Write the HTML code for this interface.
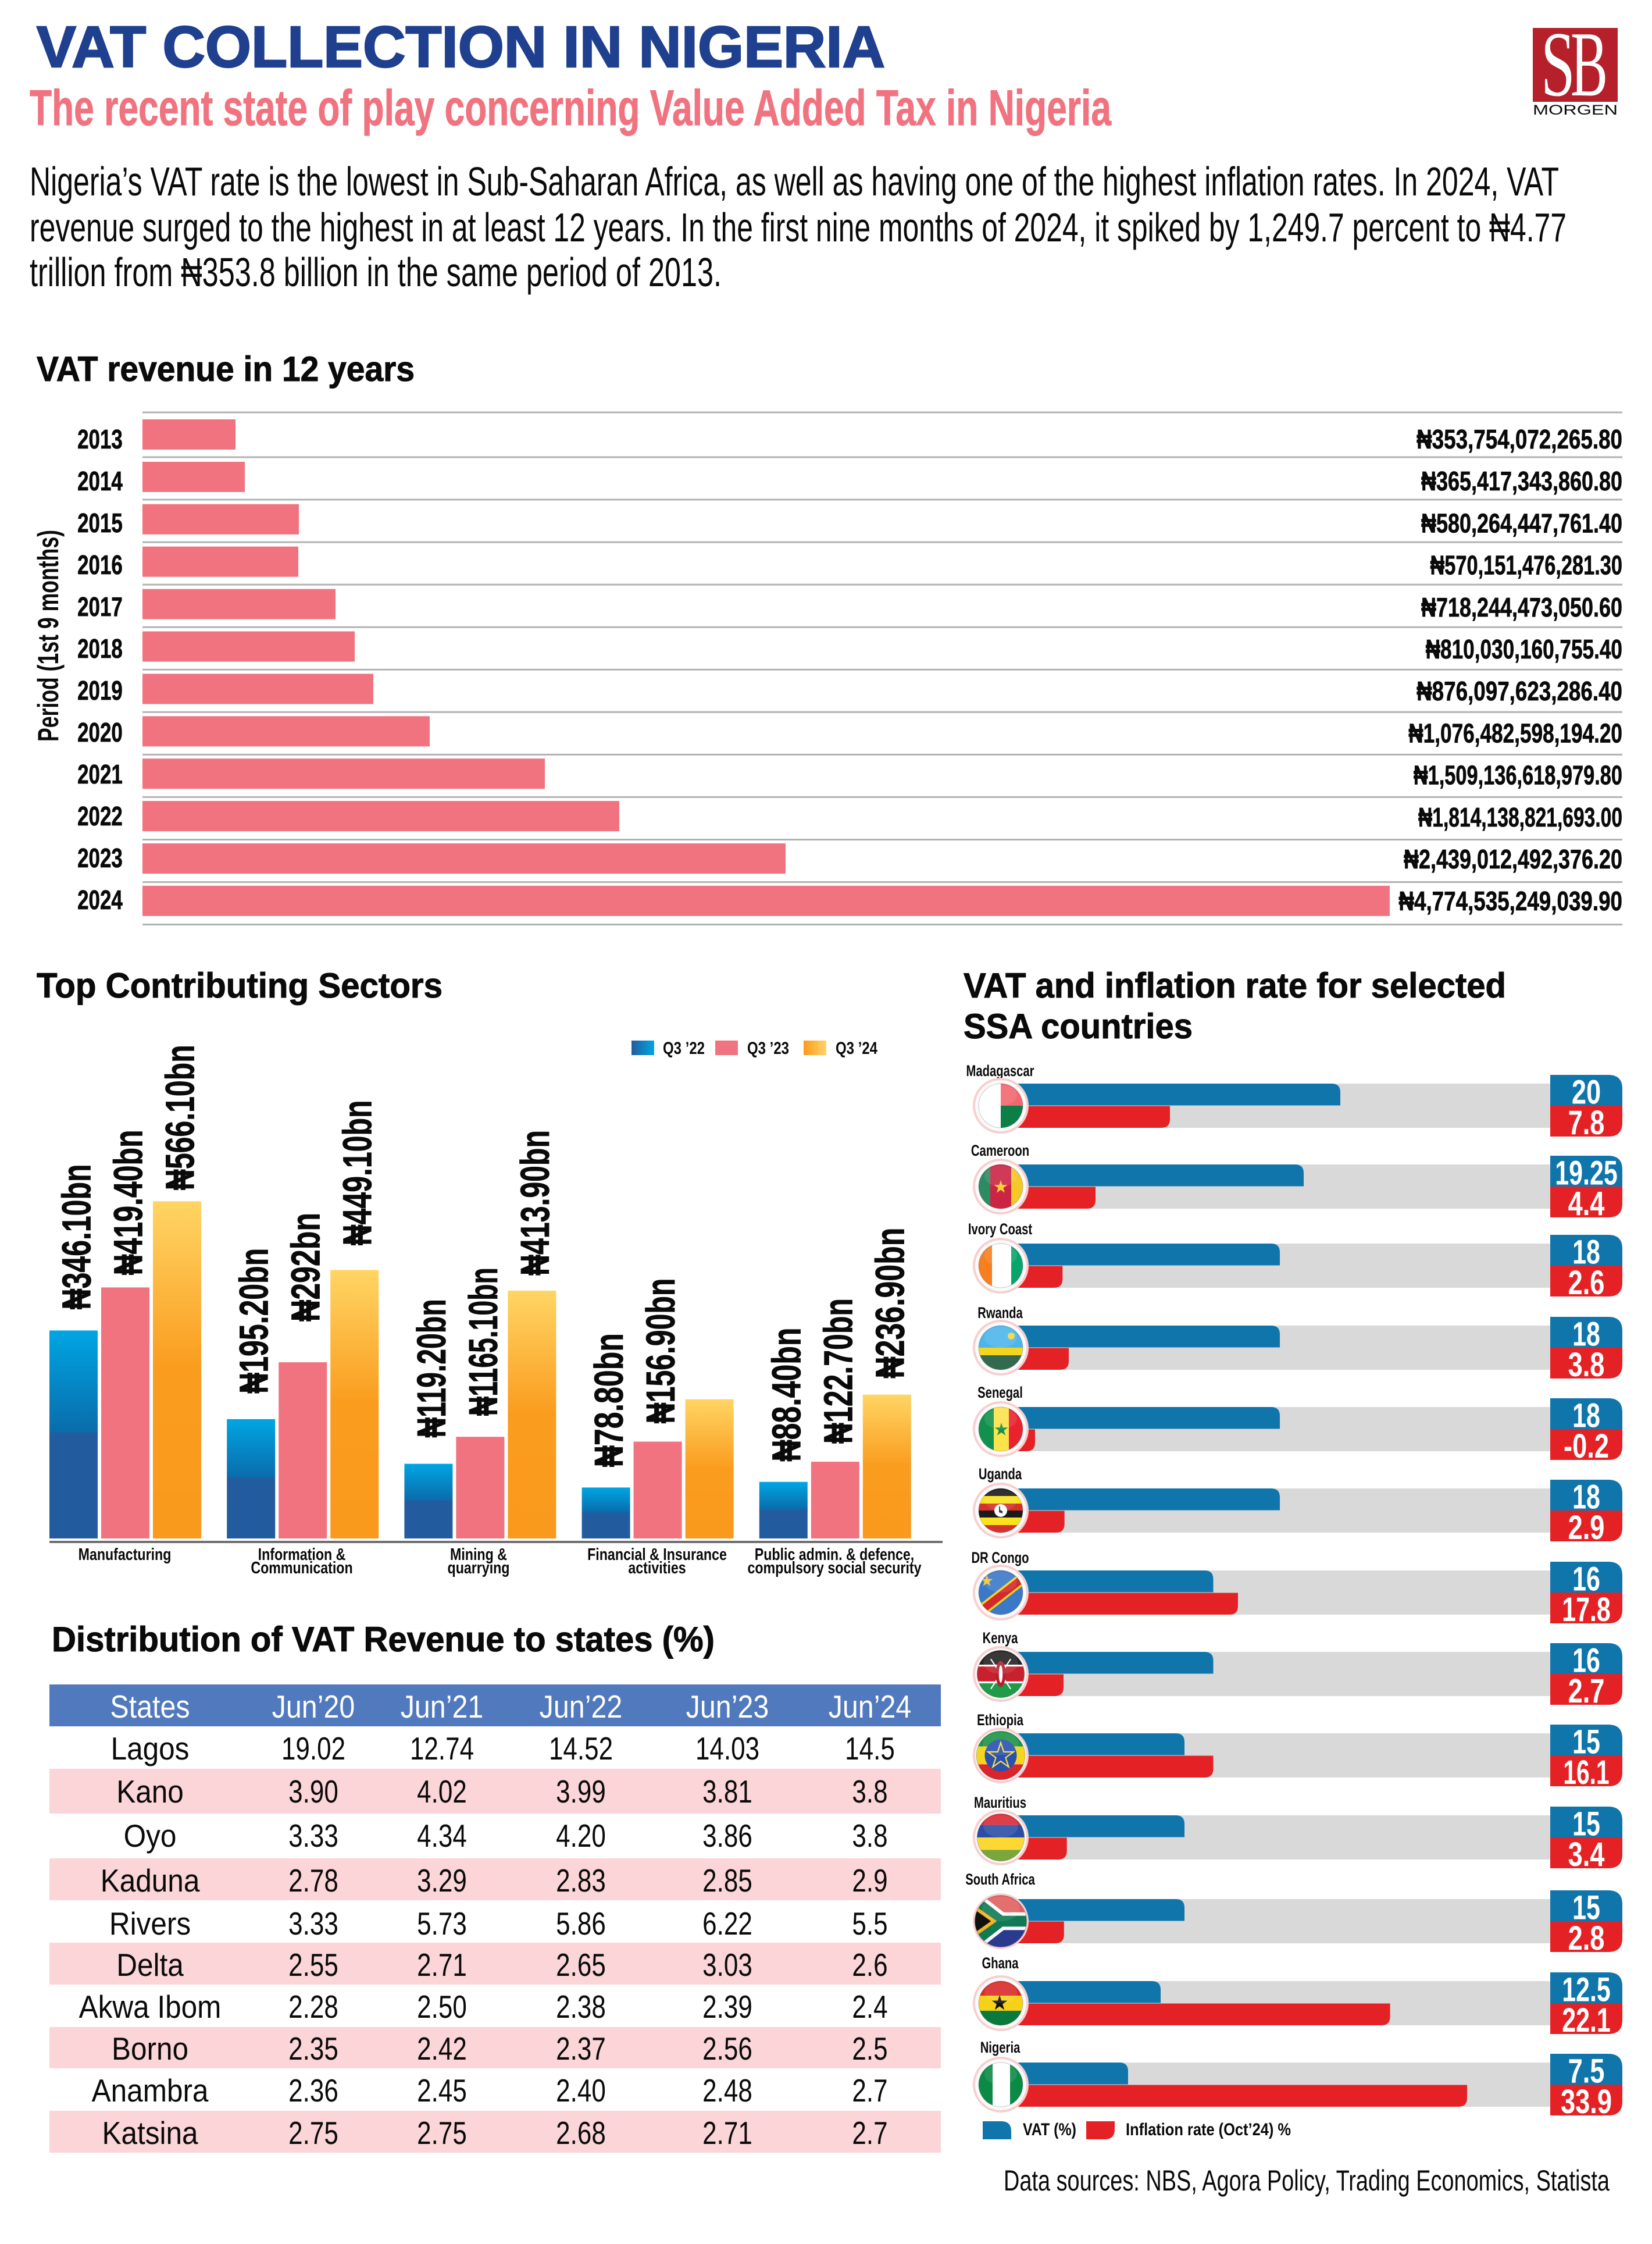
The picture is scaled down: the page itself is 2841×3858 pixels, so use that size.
<!DOCTYPE html>
<html lang="en">
<head>
<meta charset="utf-8">
<title>VAT Collection in Nigeria</title>
<style>
html,body{margin:0;padding:0;background:#fff}
svg{display:block}
text{font-family:"Liberation Sans","DejaVu Sans",sans-serif;fill:#0a0a0a}
.h{font-weight:700}
.sec{font-weight:700;font-size:60px;stroke:#0a0a0a;stroke-width:1}
.th,.st,.nm{font-size:55px;text-anchor:middle;transform-box:fill-box;transform-origin:center}
.th{fill:#fff;transform:scaleX(.88)}
.st{transform:scaleX(.9)}
.nm{transform:scaleX(.8)}
</style>
</head>
<body>
<svg id="root" xmlns="http://www.w3.org/2000/svg" width="2841" height="3858" viewBox="0 0 2841 3858">
<defs>
<linearGradient id="gBlue" x1="0" y1="0" x2="0" y2="1"><stop offset="0" stop-color="#00a5e3"/><stop offset=".49" stop-color="#0a6cab"/><stop offset=".49" stop-color="#225c9e"/><stop offset="1" stop-color="#225c9e"/></linearGradient>
<linearGradient id="gOrange" x1="0" y1="0" x2="0" y2="1"><stop offset="0" stop-color="#ffd564"/><stop offset=".5" stop-color="#fa9c1e"/><stop offset="1" stop-color="#fa9a1d"/></linearGradient>
<linearGradient id="gBlueH" x1="0" y1="0" x2="1" y2="0"><stop offset="0" stop-color="#225c9e"/><stop offset="1" stop-color="#00a5e3"/></linearGradient>
<linearGradient id="gOrangeH" x1="0" y1="0" x2="1" y2="0"><stop offset="0" stop-color="#fa9a1d"/><stop offset="1" stop-color="#ffd564"/></linearGradient>
<clipPath id="flagClip"><circle cx="0" cy="0" r="38"/></clipPath>
</defs>

<rect x="0" y="0" width="2841" height="3858" fill="#fff"/>

<text class="h" x="63" y="115" font-size="100" textLength="1459" lengthAdjust="spacingAndGlyphs" style="fill:#1f3f8f;stroke:#1f3f8f;stroke-width:2.5">VAT COLLECTION IN NIGERIA</text>
<text class="h" x="51" y="215" font-size="86" textLength="1860" lengthAdjust="spacingAndGlyphs" style="fill:#f0737f;stroke:#f0737f;stroke-width:1">The recent state of play concerning Value Added Tax in Nigeria</text>

<g>
<text x="51" y="336" font-size="70" textLength="2630" lengthAdjust="spacingAndGlyphs">Nigeria’s VAT rate is the lowest in Sub-Saharan Africa, as well as having one of the highest inflation rates. In 2024, VAT</text>
<text x="51" y="415" font-size="70" textLength="2643" lengthAdjust="spacingAndGlyphs">revenue surged to the highest in at least 12 years. In the first nine months of 2024, it spiked by 1,249.7 percent to ₦4.77</text>
<text x="51" y="492" font-size="70" textLength="1190" lengthAdjust="spacingAndGlyphs">trillion from ₦353.8 billion in the same period of 2013.</text>
</g>

<g>
<rect x="2636" y="48" width="146" height="127" fill="#b5202a"/>
<text transform="translate(2650 164) scale(.66 1)" font-size="160" style="font-family:'Liberation Serif',serif;fill:#fff">S</text>
<text transform="translate(2701 164) scale(.6 1)" font-size="160" style="font-family:'Liberation Serif',serif;fill:#fff">B</text>
<text x="2636" y="197" font-size="24" textLength="146" lengthAdjust="spacingAndGlyphs">MORGEN</text>
</g>

<text class="sec" x="63" y="655" textLength="650" lengthAdjust="spacingAndGlyphs">VAT revenue in 12 years</text>
<text class="h" transform="translate(100 1275) rotate(-90)" font-size="50" textLength="364" lengthAdjust="spacingAndGlyphs">Period (1st 9 months)</text>
<g id="revenueChart"></g>

<text class="sec" x="63" y="1715" textLength="698" lengthAdjust="spacingAndGlyphs">Top Contributing Sectors</text>
<g id="sectorChart"></g>

<text class="sec" x="1657" y="1715" textLength="933" lengthAdjust="spacingAndGlyphs">VAT and inflation rate for selected</text>
<text class="sec" x="1657" y="1785" textLength="394" lengthAdjust="spacingAndGlyphs">SSA countries</text>
<g id="countryChart"></g>

<g>
<path d="M1690 3647H1722Q1739 3647 1739 3664V3678H1690Z" fill="#0f75ab"/>
<text class="h" x="1759" y="3671" font-size="30" textLength="92" lengthAdjust="spacingAndGlyphs">VAT (%)</text>
<path d="M1868 3647H1917V3661Q1917 3678 1900 3678H1868Z" fill="#e42226"/>
<text class="h" x="1936" y="3671" font-size="30" textLength="284" lengthAdjust="spacingAndGlyphs">Inflation rate (Oct’24) %</text>
</g>
<text x="1726" y="3766" font-size="50" textLength="1042" lengthAdjust="spacingAndGlyphs">Data sources: NBS, Agora Policy, Trading Economics, Statista</text>

<text class="sec" x="89" y="2839" textLength="1140" lengthAdjust="spacingAndGlyphs">Distribution of VAT Revenue to states (%)</text>
<g>
<rect x="85" y="2896" width="1533" height="72" fill="#5079be"/>
<rect x="85" y="3041" width="1533" height="77" fill="#fbd5d8"/>
<rect x="85" y="3195" width="1533" height="72" fill="#fbd5d8"/>
<rect x="85" y="3340" width="1533" height="72" fill="#fbd5d8"/>
<rect x="85" y="3485" width="1533" height="71" fill="#fbd5d8"/>
<rect x="85" y="3629" width="1533" height="72" fill="#fbd5d8"/>
<g>
<text class="th" x="258" y="2953">States</text>
<text class="th" x="539" y="2953">Jun’20</text>
<text class="th" x="760" y="2953">Jun’21</text>
<text class="th" x="999" y="2953">Jun’22</text>
<text class="th" x="1251" y="2953">Jun’23</text>
<text class="th" x="1496" y="2953">Jun’24</text>
</g>
<g>
<text class="st" x="258" y="3025">Lagos</text>
<text class="nm" x="539" y="3025">19.02</text>
<text class="nm" x="760" y="3025">12.74</text>
<text class="nm" x="999" y="3025">14.52</text>
<text class="nm" x="1251" y="3025">14.03</text>
<text class="nm" x="1496" y="3025">14.5</text>
</g>
<g>
<text class="st" x="258" y="3099">Kano</text>
<text class="nm" x="539" y="3099">3.90</text>
<text class="nm" x="760" y="3099">4.02</text>
<text class="nm" x="999" y="3099">3.99</text>
<text class="nm" x="1251" y="3099">3.81</text>
<text class="nm" x="1496" y="3099">3.8</text>
</g>
<g>
<text class="st" x="258" y="3175">Oyo</text>
<text class="nm" x="539" y="3175">3.33</text>
<text class="nm" x="760" y="3175">4.34</text>
<text class="nm" x="999" y="3175">4.20</text>
<text class="nm" x="1251" y="3175">3.86</text>
<text class="nm" x="1496" y="3175">3.8</text>
</g>
<g>
<text class="st" x="258" y="3252">Kaduna</text>
<text class="nm" x="539" y="3252">2.78</text>
<text class="nm" x="760" y="3252">3.29</text>
<text class="nm" x="999" y="3252">2.83</text>
<text class="nm" x="1251" y="3252">2.85</text>
<text class="nm" x="1496" y="3252">2.9</text>
</g>
<g>
<text class="st" x="258" y="3326">Rivers</text>
<text class="nm" x="539" y="3326">3.33</text>
<text class="nm" x="760" y="3326">5.73</text>
<text class="nm" x="999" y="3326">5.86</text>
<text class="nm" x="1251" y="3326">6.22</text>
<text class="nm" x="1496" y="3326">5.5</text>
</g>
<g>
<text class="st" x="258" y="3397">Delta</text>
<text class="nm" x="539" y="3397">2.55</text>
<text class="nm" x="760" y="3397">2.71</text>
<text class="nm" x="999" y="3397">2.65</text>
<text class="nm" x="1251" y="3397">3.03</text>
<text class="nm" x="1496" y="3397">2.6</text>
</g>
<g>
<text class="st" x="258" y="3469">Akwa Ibom</text>
<text class="nm" x="539" y="3469">2.28</text>
<text class="nm" x="760" y="3469">2.50</text>
<text class="nm" x="999" y="3469">2.38</text>
<text class="nm" x="1251" y="3469">2.39</text>
<text class="nm" x="1496" y="3469">2.4</text>
</g>
<g>
<text class="st" x="258" y="3541">Borno</text>
<text class="nm" x="539" y="3541">2.35</text>
<text class="nm" x="760" y="3541">2.42</text>
<text class="nm" x="999" y="3541">2.37</text>
<text class="nm" x="1251" y="3541">2.56</text>
<text class="nm" x="1496" y="3541">2.5</text>
</g>
<g>
<text class="st" x="258" y="3613">Anambra</text>
<text class="nm" x="539" y="3613">2.36</text>
<text class="nm" x="760" y="3613">2.45</text>
<text class="nm" x="999" y="3613">2.40</text>
<text class="nm" x="1251" y="3613">2.48</text>
<text class="nm" x="1496" y="3613">2.7</text>
</g>
<g>
<text class="st" x="258" y="3686">Katsina</text>
<text class="nm" x="539" y="3686">2.75</text>
<text class="nm" x="760" y="3686">2.75</text>
<text class="nm" x="999" y="3686">2.68</text>
<text class="nm" x="1251" y="3686">2.71</text>
<text class="nm" x="1496" y="3686">2.7</text>
</g>
</g>
</svg>

<script>
/* ---------- Revenue chart data ---------- */
const revenueYears = ['2013','2014','2015','2016','2017','2018','2019','2020','2021','2022','2023','2024'];
const revenueBillions = [353.75, 365.42, 580.26, 570.15, 718.24, 810.03, 876.10, 1076.48, 1509.14, 1814.14, 2439.01, 4774.54];
const revenueLabels = ['₦353,754,072,265.80','₦365,417,343,860.80','₦580,264,447,761.40','₦570,151,476,281.30','₦718,244,473,050.60','₦810,030,160,755.40','₦876,097,623,286.40','₦1,076,482,598,194.20','₦1,509,136,618,979.80','₦1,814,138,821,693.00','₦2,439,012,492,376.20','₦4,774,535,249,039.90'];

/* ---------- Sector chart data ---------- */
const sectorCategories = [['Manufacturing'],['Information &','Communication'],['Mining &','quarrying'],['Financial & Insurance','activities'],['Public admin. & defence,','compulsory social security']];
const sectorSeriesNames = ['Q3 ’22','Q3 ’23','Q3 ’24'];
const sectorQ322 = [346.1, 195.2, 119.2, 78.8, 88.4];
const sectorQ323 = [419.4, 292, 165.1, 156.9, 122.7];
const sectorQ324 = [566.1, 449.1, 413.9, 229, 236.9];
const sectorLabelsQ322 = ['₦346.10bn','₦195.20bn','₦119.20bn','₦78.80bn','₦88.40bn'];
const sectorLabelsQ323 = ['₦419.40bn','₦292bn','₦1165.10bn','₦156.90bn','₦122.70bn'];
const sectorLabelsQ324 = ['₦566.10bn','₦449.10bn','₦413.90bn','','₦236.90bn'];

/* ---------- Country chart data ---------- */
const countries = ['Madagascar','Cameroon','Ivory Coast','Rwanda','Senegal','Uganda','DR Congo','Kenya','Ethiopia','Mauritius','South Africa','Ghana','Nigeria'];
const vatRates = [20, 19.25, 18, 18, 18, 18, 16, 16, 15, 15, 15, 12.5, 7.5];
const inflationRates = [7.8, 4.4, 2.6, 3.8, -0.2, 2.9, 17.8, 2.7, 16.1, 3.4, 2.8, 22.1, 33.9];

/* ---------- Layout and axis definitions (not data) ---------- */
const NS = 'http://www.w3.org/2000/svg';
const revenueLayout = {left: 245, right: 2790, firstBarTop: 721, barHeight: 52, rowStep: 72.9};
const revenueGridTops = 709;
const revenueAxisDomain = [353.75, 365.42, 570.15, 580.26, 718.24, 810.03, 876.10, 1076.48, 1509.14, 1814.14, 2439.01, 4774.54];
const revenueAxisRange = [405, 421, 513, 514, 577, 610, 642, 739, 937, 1065, 1351, 2390];
const sectorLayout = {groupStart: 85, groupStep: 305.2, barStep: 89, barWidth: 83, baseY: 2645, minHeight: 8, pxPerBillion: 1.01};
const sectorLabelGaps = [[36,44,45,35,35],[21,70,36,31,31],[19,42,26,0,28]];
const sectorCategoryCenters = [214.5, 519, 823, 1130, 1435];
const countryRowTops = [1848,1987,2123,2264,2404,2544,2685,2825,2965,3106,3250,3391,3531];
const countryNameBaselines = [1850,1987,2122,2266,2403,2543,2687,2825,2966,3108,3240,3384,3529];
const vatAxisDomain = [7.5, 12.5, 15, 16, 18, 19.25, 20];
const vatAxisRange = [1940, 1996, 2037, 2086.5, 2201, 2242, 2305];
const inflationAxisDomain = [-0.2, 2.7, 3.8, 4.4, 7.8, 16.1, 17.8, 22.1, 33.9];
const inflationAxisRange = [1780, 1829, 1838, 1884, 2012, 2086.5, 2129, 2390.6, 2523];

function make(tag, attrs, parent) {
  const el = document.createElementNS(NS, tag);
  for (const k in attrs) el.setAttribute(k, attrs[k]);
  parent.appendChild(el);
  return el;
}
function slug(s) { return s.toLowerCase().replace(/[^a-z0-9]+/g, '-').replace(/^-|-$/g, ''); }
function piecewiseAxis(domain, range, v) {
  let i = 0;
  while (i < domain.length - 2 && v > domain[i + 1]) i++;
  return range[i] + (v - domain[i]) * (range[i + 1] - range[i]) / (domain[i + 1] - domain[i]);
}
/* The source typeface has a narrow figure 1, so strings with many 1s run shorter */
function narrowed(base, str, perOne) {
  const ones = str.split('1').length - 1;
  return (base * (1 - perOne * ones)).toFixed(3);
}
function xRevenue(v) { return piecewiseAxis(revenueAxisDomain, revenueAxisRange, v); }
function ySector(v) { return sectorLayout.baseY - sectorLayout.minHeight - v * sectorLayout.pxPerBillion; }
function xVat(v) { return piecewiseAxis(vatAxisDomain, vatAxisRange, v); }
function xInflation(v) { return piecewiseAxis(inflationAxisDomain, inflationAxisRange, v); }

/* ---------- Revenue chart ---------- */
(function () {
  const root = document.getElementById('revenueChart');
  const L = revenueLayout;
  for (let i = 0; i <= revenueYears.length; i++) {
    const gy = i === 0 ? revenueGridTops : 786 + (i - 1) * 73.05;
    const line = make('line', {x1: L.left, x2: L.right, y1: gy, y2: gy, stroke: '#b2b2b2', 'stroke-width': 3}, root);
    
    
  }
  revenueYears.forEach(function (year, i) {
    const top = L.firstBarTop + i * L.rowStep;
    const bar = make('rect', {x: L.left, y: top, width: xRevenue(revenueBillions[i]) - L.left, height: L.barHeight, fill: '#f0737f'}, root);
    
    
    const tick = make('text', {transform: 'translate(172 ' + (771 + i * 72) + ') scale(.76 1)', 'text-anchor': 'middle', 'font-size': 46, 'font-weight': 700, stroke: '#0a0a0a', 'stroke-width': .7}, root);
    tick.textContent = year;
    
    
    const val = make('text', {transform: 'translate(2790 ' + (771 + i * 72.2) + ') scale(' + narrowed(.8, revenueLabels[i], .022) + ' 1)', 'text-anchor': 'end', 'font-size': 46, 'font-weight': 700, stroke: '#0a0a0a', 'stroke-width': .7}, root);
    val.textContent = revenueLabels[i];
    
    
  });
})();

/* ---------- Sector chart ---------- */
(function () {
  const root = document.getElementById('sectorChart');
  const L = sectorLayout;
  const series = [sectorQ322, sectorQ323, sectorQ324];
  const labels = [sectorLabelsQ322, sectorLabelsQ323, sectorLabelsQ324];
  const fills = ['url(#gBlue)', '#f0737f', 'url(#gOrange)'];
  const legendFills = ['url(#gBlueH)', '#f0737f', 'url(#gOrangeH)'];
  const legendSwatchX = [1086, 1230, 1382];
  const legendTextX = [1140, 1285, 1437];

  series.forEach(function (vals, s) {
    const sw = make('rect', {x: legendSwatchX[s], y: 1789, width: 39, height: 25, fill: legendFills[s]}, root);
    
    
    const tx = make('text', {transform: 'translate(' + legendTextX[s] + ' 1812) scale(.8 1)', 'font-size': 30, 'font-weight': 700}, root);
    tx.textContent = sectorSeriesNames[s];
    
    

    vals.forEach(function (v, g) {
      const x = L.groupStart + g * L.groupStep + s * L.barStep;
      const top = ySector(v);
      const bar = make('rect', {x: x, y: top, width: L.barWidth, height: L.baseY - top, fill: fills[s]}, root);
      
      
      if (labels[s][g]) {
        const lx = x + L.barWidth / 2 + 29;
        const ly = top - sectorLabelGaps[s][g];
        const lab = make('text', {transform: 'translate(' + lx + ' ' + ly + ') rotate(-90) scale(' + narrowed(.74, labels[s][g], .035) + ' 1)', 'font-size': 70, 'font-weight': 700, stroke: '#0a0a0a', 'stroke-width': .8}, root);
        lab.textContent = labels[s][g];
        
        
      }
    });
  });

  const axis = make('line', {x1: 85, x2: 1621, y1: 2651, y2: 2651, stroke: '#707070', 'stroke-width': 4}, root);
  
  

  sectorCategories.forEach(function (lines, g) {
    lines.forEach(function (line, n) {
      const t = make('text', {transform: 'translate(' + sectorCategoryCenters[g] + ' ' + (2682 + n * 23) + ') scale(.8 1)', 'text-anchor': 'middle', 'font-size': 29, 'font-weight': 700}, root);
      t.textContent = line;
      
      
    });
  });
})();

/* ---------- Flags (artwork only) ---------- */
function R(x, y, w, h, f) { return '<rect x="' + x + '" y="' + y + '" width="' + w + '" height="' + h + '" fill="' + f + '"/>'; }
function S(cx, cy, r, f, extra) {
  const u = [[0,-1],[.225,-.309],[.951,-.309],[.363,.118],[.588,.809],[0,.382],[-.588,.809],[-.363,.118],[-.951,-.309],[-.225,-.309]];
  return '<polygon points="' + u.map(function (p) { return (cx + p[0] * r) + ',' + (cy + p[1] * r); }).join(' ') + '" fill="' + f + '" ' + (extra || '') + '/>';
}
const flagArt = {
  'Madagascar': R(-50,-50,50,100,'#fff') + R(0,-50,50,50,'#f2676e') + R(0,0,50,50,'#0b7f45'),
  'Cameroon': R(-50,-50,32,100,'#2d8a62') + R(-18,-50,36,100,'#cc2444') + R(18,-50,32,100,'#f4c829') + S(0,1,12,'#f6d02e'),
  'Ivory Coast': R(-50,-50,35,100,'#f77f22') + R(-15,-50,33,100,'#fff') + R(18,-50,32,100,'#07a56b'),
  'Rwanda': R(-50,-50,100,50,'#4cb6ea') + R(-50,0,100,13,'#f4d41c') + R(-50,13,100,37,'#33694f') + '<circle cx="18" cy="-20" r="6" fill="#f2d544"/>',
  'Senegal': R(-50,-50,38,100,'#12914d') + R(-12,-50,26,100,'#fbe34a') + R(14,-50,36,100,'#e8232e') + S(1,1,12,'#12914d'),
  'Uganda': R(-50,-50,100,25,'#1a1a1a') + R(-50,-25,100,13,'#f9e21e') + R(-50,-12,100,12,'#d5322b') + R(-50,0,100,12,'#1a1a1a') + R(-50,12,100,13,'#f9e21e') + R(-50,25,100,25,'#d5322b') + '<circle r="11" fill="#fff"/><path d="M-3 -7V3L3 5V1L-1 -1V-7Z" fill="#333"/>',
  'DR Congo': R(-50,-50,100,100,'#3b78c8') + '<line x1="-45" y1="40" x2="45" y2="-30" stroke="#f7d618" stroke-width="20"/><line x1="-45" y1="40" x2="45" y2="-30" stroke="#d5282d" stroke-width="13"/>' + S(-24,-20,11,'#f0c93a'),
  'Kenya': R(-50,-50,100,36,'#222') + R(-50,-15,100,3,'#fff') + R(-50,-12,100,24,'#c8202c') + R(-50,12,100,3,'#fff') + R(-50,15,100,35,'#1f9b4a') + '<path d="M-16 -24L16 24M16 -24L-16 24" stroke="#fff" stroke-width="2"/><ellipse rx="8" ry="21" fill="#b81f2a"/><ellipse rx="3" ry="14" fill="#fff"/>',
  'Ethiopia': R(-50,-50,100,36,'#1e9247') + R(-50,-14,100,28,'#f5d61f') + R(-50,14,100,36,'#d9252c') + '<circle r="25" fill="#2a50b0"/>' + S(0,1,21,'none','stroke="#fce03a" stroke-width="2"'),
  'Mauritius': R(-50,-50,100,30,'#d92a35') + R(-50,-20,100,20,'#2a4ea5') + R(-50,0,100,20,'#fdd835') + R(-50,20,100,30,'#7aa63a'),
  'South Africa': R(-50,-50,100,50,'#e0605f') + R(-50,0,100,50,'#2a3a8f') + '<path d="M-45 -35L0 0H50M-45 35L0 0" fill="none" stroke="#fff" stroke-width="26"/><path d="M-45 -35L0 0H50M-45 35L0 0" fill="none" stroke="#0f7a53" stroke-width="16"/><polygon points="-44,-24 -10,0 -44,24" fill="#111" stroke="#f5b324" stroke-width="5"/>',
  'Ghana': R(-50,-50,100,37,'#d92a28') + R(-50,-13,100,26,'#f7d117') + R(-50,13,100,37,'#0a7a3c') + S(-2,0,14,'#111'),
  'Nigeria': R(-50,-50,36,100,'#0a8a44') + R(-14,-50,30,100,'#fff') + R(16,-50,34,100,'#0a8a44')
};
const flagScale = {'South Africa': 1.17, 'Mauritius': 1.07, 'Ethiopia': 1.1, 'Kenya': 1.07, 'Uganda': 1};

/* ---------- Country chart ---------- */
(function () {
  const root = document.getElementById('countryChart');
  const trackEnd = 2666, boxEnd = 2790, barStart = 1720, cx = 1721, r = 15, br = 24;
  countries.forEach(function (name, i) {
    const T = countryRowTops[i];
    const key = slug(name);
    const row = make('g', {}, root);
    
    

    const track = make('rect', {x: barStart, y: T + 15, width: trackEnd - barStart, height: 76, fill: '#d9d9d9'}, row);
    
    

    const vx = xVat(vatRates[i]);
    const vat = make('path', {d: 'M' + barStart + ' ' + (T + 15) + 'H' + (vx - r) + 'Q' + vx + ' ' + (T + 15) + ' ' + vx + ' ' + (T + 15 + r) + 'V' + (T + 52.5) + 'H' + barStart + 'Z', fill: '#0f75ab'}, row);
    
    

    const ix = xInflation(inflationRates[i]);
    const inf = make('path', {d: 'M' + barStart + ' ' + (T + 53.5) + 'H' + ix + 'V' + (T + 91 - r) + 'Q' + ix + ' ' + (T + 91) + ' ' + (ix - r) + ' ' + (T + 91) + 'H' + barStart + 'Z', fill: '#e42226'}, row);
    
    

    const box1 = make('path', {d: 'M' + trackEnd + ' ' + T + 'H' + (boxEnd - br) + 'Q' + boxEnd + ' ' + T + ' ' + boxEnd + ' ' + (T + br) + 'V' + (T + 53) + 'H' + trackEnd + 'Z', fill: '#0f75ab'}, row);
    
    
    const box2 = make('path', {d: 'M' + trackEnd + ' ' + (T + 53) + 'H' + boxEnd + 'V' + (T + 106 - br) + 'Q' + boxEnd + ' ' + (T + 106) + ' ' + (boxEnd - br) + ' ' + (T + 106) + 'H' + trackEnd + 'Z', fill: '#e42226'}, row);
    
    

    const v1 = String(vatRates[i]);
    const v2 = String(inflationRates[i]);
    const t1 = make('text', {transform: 'translate(2728 ' + (T + 49.5) + ') scale(' + narrowed(.78, v1, .05) + ' 1)', 'text-anchor': 'middle', 'font-size': 58, 'font-weight': 700, style: 'fill:#fff'}, row);
    t1.textContent = v1;
    
    
    const t2 = make('text', {transform: 'translate(2728 ' + (T + 102) + ') scale(' + narrowed(.78, v2, .05) + ' 1)', 'text-anchor': 'middle', 'font-size': 58, 'font-weight': 700, style: 'fill:#fff'}, row);
    t2.textContent = v2;
    
    

    const lab = make('text', {transform: 'translate(1720 ' + countryNameBaselines[i] + ') scale(.75 1)', 'text-anchor': 'middle', 'font-size': 27, 'font-weight': 700}, row);
    lab.textContent = name;
    
    

    const flag = make('g', {transform: 'translate(' + cx + ' ' + (T + 53) + ')'}, row);
    
    
    const s = flagScale[name] || 1;
    flag.innerHTML = '<circle r="46" fill="#fafafa" stroke="#f7cfcf" stroke-width="4"/>' +
      '<g transform="scale(' + s + ')"><g clip-path="url(#flagClip)">' + flagArt[name] +
      '<ellipse cx="0" cy="-18" rx="28" ry="18" fill="#fff" opacity=".1"/></g>' +
      '<circle r="38" fill="none" stroke="#555" stroke-opacity=".35" stroke-width="1"/></g>';
  });
})();
</script>
</body>
</html>
